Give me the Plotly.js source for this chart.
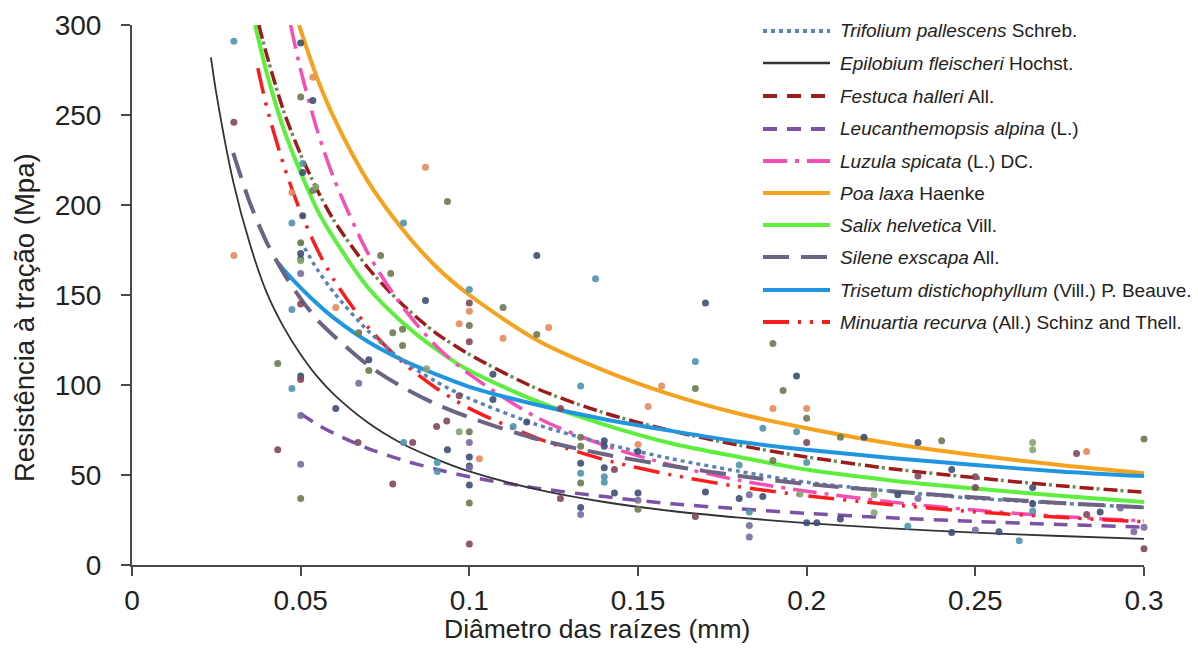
<!DOCTYPE html>
<html><head><meta charset="utf-8">
<script src="https://cdn.plot.ly/plotly-3.0.1.min.js"></script>
<style>html,body{margin:0;padding:0;background:#fff}#chart{width:1198px;height:648px}</style>
</head><body><div id="chart"></div>
<script>
// ---- axis ticks ----
const xTickVals = [0, 0.05, 0.1, 0.15, 0.2, 0.25, 0.3];
const xTickText = ['0', '0.05', '0.1', '0.15', '0.2', '0.25', '0.3'];
const yTickVals = [0, 50, 100, 150, 200, 250, 300];

// ---- fitted curves ----
const trifoliumX = [0.05,0.055,0.06,0.07,0.08,0.09,0.1,0.12,0.14,0.16,0.18,0.2,0.225,0.25,0.275,0.3];
const trifoliumY = [180,164,151,130,114,102,92.5,78,67.5,59,52,46,41,37,34.3,32];

const epilobiumX = [0.0234,0.025,0.03,0.035,0.04,0.045,0.05,0.055,0.06,0.07,0.08,0.09,0.1,0.12,0.14,0.16,0.18,0.2,0.225,0.25,0.275,0.3];
const epilobiumY = [282,262,213,178,151,132,117,104.5,94.5,79,67.5,59,52,42,35,30,26.3,23.3,20.3,18,16.1,14.5];

const festucaX = [0.0376,0.04,0.045,0.05,0.055,0.06,0.07,0.08,0.09,0.1,0.12,0.14,0.16,0.18,0.2,0.225,0.25,0.275,0.3];
const festucaY = [300,283,252,228,208,191,165,145,129,117,98,84.5,74.5,66.5,60,53.5,48.5,44,40.5];

const leucanthemopsisX = [0.05,0.055,0.06,0.07,0.08,0.09,0.1,0.12,0.14,0.16,0.18,0.2,0.225,0.25,0.275,0.3];
const leucanthemopsisY = [84,78,73,64.7,58.4,53.3,49,42.7,38,34,31.2,28.7,26.2,24.2,22.5,21];

const luzulaX = [0.047,0.05,0.055,0.06,0.07,0.08,0.09,0.1,0.12,0.14,0.16,0.18,0.2,0.225,0.25,0.275,0.3];
const luzulaY = [300,275,241,214,173,144,122,106,82,66.5,55.5,47,41,35,30.5,27,24.5];

const poaX = [0.0495,0.055,0.06,0.07,0.08,0.09,0.1,0.12,0.14,0.16,0.18,0.2,0.225,0.25,0.275,0.3];
const poaY = [300,270,248,213,187,166,150,125,108,94.5,84,76,67.5,61,55.5,51];

const salixX = [0.0365,0.04,0.045,0.05,0.055,0.06,0.07,0.08,0.09,0.1,0.12,0.14,0.16,0.18,0.2,0.225,0.25,0.275,0.3];
const salixY = [300,273,242,218,197,181,154,135,120,108,91,78,67.5,60,53,47,42.5,38.5,35];

const sileneX = [0.03,0.035,0.04,0.045,0.05,0.055,0.06,0.07,0.08,0.09,0.1,0.12,0.14,0.16,0.18,0.2,0.225,0.25,0.275,0.3];
const sileneY = [229,201,179,162,148,136,127,111,99,89.5,82,70,61.5,55,49.5,45,41,37.5,34.5,32];

const trisetumX = [0.0432,0.045,0.05,0.055,0.06,0.07,0.08,0.09,0.1,0.12,0.14,0.16,0.18,0.2,0.225,0.25,0.275,0.3];
const trisetumY = [168,164,154,145,137,124,114,106,99,89,81,74.5,68.5,64,59.5,55.5,52,49.4];

const minuartiaX = [0.0373,0.04,0.045,0.05,0.055,0.06,0.07,0.08,0.09,0.1,0.12,0.14,0.16,0.18,0.2,0.225,0.25,0.275,0.3];
const minuartiaY = [276,254,222,196,175,158,132,113,98.5,87,70.5,58.5,50,43.5,38.5,33.5,29.5,26.5,24];

// ---- observed points, grouped by colour ----
const tealX = [0.0302,0.0474,0.0474,0.0474,0.0506,0.0805,0.0805,0.0905,0.0905,0.1,0.1374,0.167,0.113,0.133,0.133,0.14,0.14,0.187,0.197,0.18,0.183,0.23,0.263,0.267,0.2];
const tealY = [291,98,142,190,223,190,68,57,52,153,159,113,77,99.5,51,49,46,76,74,55.5,29.5,21.5,13.5,30,57];

const navyX = [0.05,0.0536,0.0506,0.0506,0.05,0.05,0.0604,0.087,0.0935,0.1,0.1,0.1,0.12,0.17,0.107,0.107,0.117,0.14,0.14,0.15,0.133,0.14,0.143,0.15,0.17,0.197,0.217,0.233,0.243,0.267,0.18,0.187,0.227,0.2,0.203,0.21,0.243,0.257,0.267,0.287,0.133,0.0702,0.05];
const navyY = [290,258,218,194,173,105,87,147,64,60,55,44.5,172,145.5,106,92,79.5,69,66,63,56.5,54,40,40,40.5,105,71,68,53,43,37,38,39,23.5,23.5,25.5,18,18.5,34,29.5,32,114,170];

const oliveX = [0.0432,0.05,0.05,0.0536,0.0672,0.0702,0.0773,0.0802,0.0802,0.0737,0.0767,0.0935,0.1,0.1,0.1,0.11,0.12,0.167,0.133,0.133,0.133,0.15,0.19,0.193,0.2,0.19,0.21,0.24,0.3,0.05];
const oliveY = [112,37,260,208,129,108,129,131,122,172,162,202,133,34.5,74,143,128,98,71,66,45.5,31,123,97,81.5,58,71,69,70,179];

const salmonX = [0.0302,0.0536,0.0474,0.0604,0.087,0.097,0.1,0.11,0.1235,0.157,0.153,0.15,0.103,0.19,0.2,0.283];
const salmonY = [172,271,207,143,221,134,141,126,132,99.5,88,67,59,87,87,63];

const maroonX = [0.0302,0.0432,0.05,0.05,0.0773,0.0903,0.0933,0.0832,0.067,0.1,0.1,0.1,0.097,0.127,0.143,0.127,0.167,0.2,0.233,0.25,0.25,0.28,0.283,0.3];
const maroonY = [246,64,103,145,45,77,80,68,68,145.5,124,11.7,94,87,53,37,27,68,49.5,49,43,62,28,9];

const purpleX = [0.05,0.05,0.0672,0.05,0.1,0.1,0.133,0.15,0.183,0.183,0.183,0.233,0.25,0.293,0.297,0.3];
const purpleY = [83,56,101,162,68,54,28,36,39,22,15.5,37,19.5,31.6,18.5,21];

const sageX = [0.0545,0.0873,0.097,0.198,0.22,0.22,0.267,0.267,0.05];
const sageY = [210,109,74,39.5,39,29,68,64,169];

// ---- series presentation ----
const seriesNames = [
  '<i>Trifolium pallescens</i> Schreb.',
  '<i>Epilobium fleischeri</i> Hochst.',
  '<i>Festuca halleri</i> All.',
  '<i>Leucanthemopsis alpina</i> (L.)',
  '<i>Luzula spicata</i> (L.) DC.',
  '<i>Poa laxa</i> Haenke',
  '<i>Salix helvetica</i> Vill.',
  '<i>Silene exscapa</i> All.',
  '<i>Trisetum distichophyllum</i> (Vill.) P. Beauve.',
  '<i>Minuartia recurva</i> (All.) Schinz and Thell.'
];
const seriesColors = ['#5b84b5','#333333','#9e1b1b','#7d52a6','#f54fb5','#f5a21e','#5eee3e','#6c6482','#2196e0','#fb1c1c'];
const seriesDash = ['4px,4px','solid','14px,10px','14px,10px','24px,8px,4px,8px','solid','solid','26px,12px','solid','26px,9px,3px,9px,3px,9px'];
const seriesWidth = [3.5,1.8,3.5,3.5,3.5,4,4,4,4,3.5];
const legendWidth = [4,2.5,4,4,4,4,4,4,4,4];
const curveX = [trifoliumX,epilobiumX,festucaX,leucanthemopsisX,luzulaX,poaX,salixX,sileneX,trisetumX,minuartiaX];
const curveY = [trifoliumY,epilobiumY,festucaY,leucanthemopsisY,luzulaY,poaY,salixY,sileneY,trisetumY,minuartiaY];

const pointGroups = [
  [tealX,tealY,'#4f93ad'],[navyX,navyY,'#3e4f73'],[oliveX,oliveY,'#6a7b52'],
  [salmonX,salmonY,'#e3895d'],[maroonX,maroonY,'#80485a'],[purpleX,purpleY,'#7b6aa0'],[sageX,sageY,'#86a56e']
];

const traces = [];
// olive dot overlay for the Festuca dash-dot look (drawn under)
traces.push({x: festucaX, y: festucaY, mode:'lines', hoverinfo:'skip', showlegend:false,
  line:{color:'#6f8f50', width:3.5, dash:'0px,17px,3px,4px', shape:'spline', smoothing:0.8}});
// draw order: back to front
const order = [5,6,2,4,9,8,0,7,3,1];
order.forEach(i => {
  traces.push({x: curveX[i], y: curveY[i], mode:'lines', name: seriesNames[i], showlegend:false,
    line:{color: seriesColors[i], width: seriesWidth[i], dash: seriesDash[i], shape:'spline', smoothing:0.8}});
});
pointGroups.forEach(g => {
  traces.push({x:g[0], y:g[1], mode:'markers', showlegend:false, cliponaxis:false,
    marker:{color:g[2], size:7, opacity:0.9}});
});

// ---- custom legend (paper coordinates) ----
const shapes = [];
const annotations = [];
const rowPx = [31,63,96,129,161,193,225,257,290,322];
const plotL = 132, plotW = 1012, plotB = 565, plotH = 540;
const px2x = p => (p - plotL) / plotW;
const px2y = p => (plotB - p) / plotH;
seriesNames.forEach((n, i) => {
  const y = px2y(rowPx[i]);
  shapes.push({type:'line', xref:'paper', yref:'paper', x0:px2x(763), x1:px2x(830), y0:y, y1:y,
    line:{color:seriesColors[i], width:legendWidth[i], dash:seriesDash[i]}});
  annotations.push({xref:'paper', yref:'paper', x:px2x(838), y:y, xanchor:'left', yanchor:'middle',
    text:n, showarrow:false, font:{size:19, color:'#222'}});
});
annotations.push({xref:'paper', yref:'paper', x:px2x(25), y:px2y(318), xanchor:'center', yanchor:'middle',
  textangle:-90, text:'Resistência à tração (Mpa)', showarrow:false, font:{size:27.5, color:'#222'}});
annotations.push({xref:'paper', yref:'paper', x:px2x(597), y:px2y(629), xanchor:'center', yanchor:'middle',
  text:'Diâmetro das raízes (mm)', showarrow:false, font:{size:26.5, color:'#222'}});

const axisCommon = {showline:true, linecolor:'#4a4a4a', linewidth:2, ticks:'outside', ticklen:9, tickwidth:2,
  tickcolor:'#4a4a4a', showgrid:false, zeroline:false, tickfont:{size:28, color:'#222'}, fixedrange:true};

const layout = {
  width:1198, height:648,
  margin:{l:plotL, r:1198 - plotL - plotW, t:25, b:648 - plotB},
  paper_bgcolor:'#fff', plot_bgcolor:'#fff', showlegend:false,
  font:{family:'"Liberation Sans", Arial, sans-serif', color:'#222'},
  xaxis: Object.assign({}, axisCommon, {range:[0,0.3], tickmode:'array', tickvals:xTickVals, ticktext:xTickText, ticklabelstandoff:0}),
  yaxis: Object.assign({}, axisCommon, {range:[0,300], tickmode:'array', tickvals:yTickVals, ticklabelstandoff:14}),
  shapes: shapes, annotations: annotations
};

Plotly.newPlot('chart', traces, layout, {displayModeBar:false, staticPlot:true});
</script>
</body></html>
